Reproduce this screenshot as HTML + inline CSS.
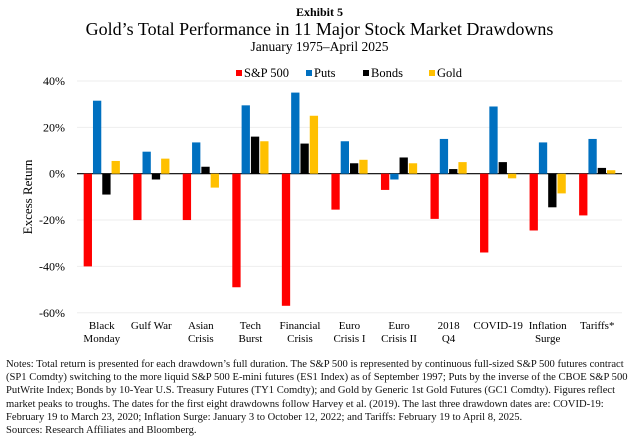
<!DOCTYPE html>
<html><head><meta charset="utf-8"><style>
body{margin:0;width:639px;height:444px;background:#fff;font-family:"Liberation Serif",serif;overflow:hidden;position:relative}
.notes{position:absolute;left:6px;top:358px;width:630px;font-size:10.6px;line-height:13.2px;color:#111}
</style></head><body>
<svg width="639" height="352" style="position:absolute;left:0;top:0" id="svg">
<text x="319.5" y="16" text-anchor="middle" font-size="12" font-weight="bold">Exhibit 5</text>
<text x="319.5" y="35" text-anchor="middle" font-size="18">Gold’s Total Performance in 11 Major Stock Market Drawdowns</text>
<text x="319.5" y="51" text-anchor="middle" font-size="13.5">January 1975–April 2025</text>
<text transform="translate(32,197) rotate(-90)" text-anchor="middle" font-size="13">Excess Return</text>
</svg>
<div class="notes">Notes: Total return is presented for each drawdown’s full duration. The S&amp;P 500 is represented by continuous full-sized S&amp;P 500 futures contract (SP1 Comdty) switching to the more liquid S&amp;P 500 E-mini futures (ES1 Index) as of September 1997; Puts by the inverse of the CBOE S&amp;P 500 PutWrite Index; Bonds by 10-Year U.S. Treasury Futures (TY1 Comdty); and Gold by Generic 1st Gold Futures (GC1 Comdty). Figures reflect market peaks to troughs. The dates for the first eight drawdowns follow Harvey et al. (2019). The last three drawdown dates are: COVID-19: February 19 to March 23, 2020; Inflation Surge: January 3 to October 12, 2022; and Tariffs: February 19 to April 8, 2025.<br>Sources: Research Affiliates and Bloomberg.</div>
<script>
const categories=[["Black","Monday"],["Gulf War",""],["Asian","Crisis"],["Tech","Burst"],["Financial","Crisis"],["Euro","Crisis I"],["Euro","Crisis II"],["2018","Q4"],["COVID-19",""],["Inflation","Surge"],["Tariffs*",""]];
const seriesNames=["S&P 500","Puts","Bonds","Gold"];
const seriesColors=["#ff0000","#0070c0","#000000","#ffc000"];
const sp500=[-40,-20,-20,-49,-57,-15.5,-7,-19.5,-34,-24.5,-18];
const puts=[31.5,9.5,13.5,29.5,35,14,-2.5,15,29,13.5,15];
const bonds=[-9,-2.5,3,16,13,4.5,7,2,5,-14.5,2.5];
const gold=[5.5,6.5,-6,14,25,6,4.5,5,-2,-8.5,1.5];
const yTicks=[40,20,0,-20,-40,-60];
const series=[sp500,puts,bonds,gold];
const svg=document.getElementById('svg');const NS='http://www.w3.org/2000/svg';
const x0=77,x1=622,yTop=81,yZero=173.7,pxPer=(yZero-yTop)/40;
const y=v=>yZero-v*pxPer;
const gw=(x1-x0)/categories.length,bw=8.3;
function mk(t,a){const e=document.createElementNS(NS,t);for(const k in a)e.setAttribute(k,a[k]);svg.appendChild(e);return e;}
yTicks.forEach(t=>{
 const l=mk('line',{x1:x0,x2:x1,y1:y(t),y2:y(t),stroke:t===0?'#000':'#eee','stroke-width':t===0?1.2:1});
 
 
 const tx=mk('text',{x:65,y:y(t)+4,'text-anchor':'end','font-size':12});tx.textContent=t+'%';
 
 
});
categories.forEach((c,i)=>{
 const cx=x0+gw*(i+0.5);
 series.forEach((s,j)=>{
  const v=s[i];const bx=cx-2*bw-1.5+j*(bw+1);
  const r=mk('rect',{x:bx,y:Math.min(y(v),yZero),width:bw,height:Math.abs(y(v)-yZero),fill:seriesColors[j]});
  
  
 });
 c.forEach((ln,k)=>{if(!ln)return;const t=mk('text',{x:cx,y:329+k*13,'text-anchor':'middle','font-size':11});t.textContent=ln;
  
  });
});
const lx=[236,306,363,429];
seriesNames.forEach((n,j)=>{
 const r=mk('rect',{x:lx[j],y:70,width:6,height:6,fill:seriesColors[j]});
 
 
 const t=mk('text',{x:lx[j]+8,y:77,'font-size':12.5});t.textContent=n;
 
 
});
</script>
</body></html>
